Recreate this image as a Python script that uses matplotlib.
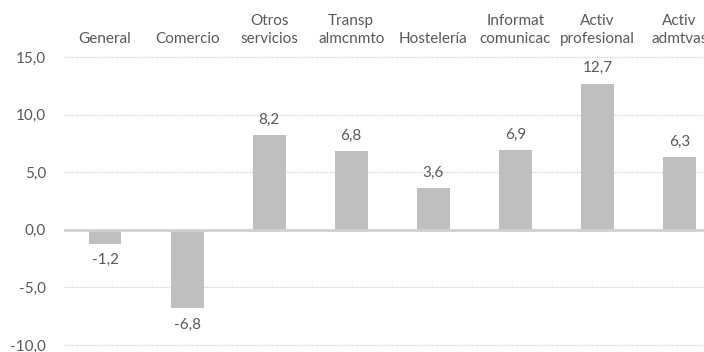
import matplotlib
matplotlib.use("Agg")
import matplotlib.pyplot as plt
from matplotlib.ticker import FuncFormatter

plt.rcParams['font.family'] = ['Lato', 'DejaVu Sans']

# data
categories = ["General", "Comercio", "Otros\nservicios", "Transp\nalmcnmto",
              "Hostelería", "Informat\ncomunicac", "Activ\nprofesional",
              "Activ\nadmtvas"]
values = [-1.2, -6.8, 8.2, 6.8, 3.6, 6.9, 12.7, 6.3]
yticks = [-10, -5, 0, 5, 10, 15]

TEXT = "#595959"
BAR = "#BFBFBF"
GRID = "#D0D0D0"

fig = plt.figure(figsize=(7.04, 3.52), dpi=100)
ax = fig.add_axes([0.091, 0.02, 0.909, 0.818])

x = list(range(len(categories)))
ax.bar(x, values, width=0.4, color=BAR, zorder=2)

for xi, v in zip(x, values):
    label = f"{v:.1f}".replace(".", ",")
    if v >= 0:
        ax.annotate(label, (xi, v), xytext=(0, 6), textcoords="offset points",
                    ha="center", va="bottom", color=TEXT, fontsize=11)
    else:
        ax.annotate(label, (xi, v), xytext=(0, -7), textcoords="offset points",
                    ha="center", va="top", color=TEXT, fontsize=11)

ax.set_ylim(-10, 15)
ax.set_xlim(-0.5, 7.3)
ax.set_yticks(yticks)
ax.yaxis.set_major_formatter(FuncFormatter(lambda v, p: f"{v:.1f}".replace(".", ",")))
ax.yaxis.grid(True, linestyle=(0, (1, 1)), color=GRID, linewidth=0.9, zorder=0)
for gl in ax.get_ygridlines():
    gl.set_clip_on(False)
ax.axhline(0, color=GRID, linewidth=2, zorder=3)

ax.xaxis.tick_top()
ax.set_xticks(x)
ax.set_xticklabels(categories, linespacing=1.4)
ax.tick_params(axis="x", length=0, pad=8, labelsize=11, labelcolor=TEXT)
ax.tick_params(axis="y", length=0, pad=13, labelsize=11, labelcolor=TEXT)
for s in ax.spines.values():
    s.set_visible(False)

fig.savefig("out.png", dpi=100)
